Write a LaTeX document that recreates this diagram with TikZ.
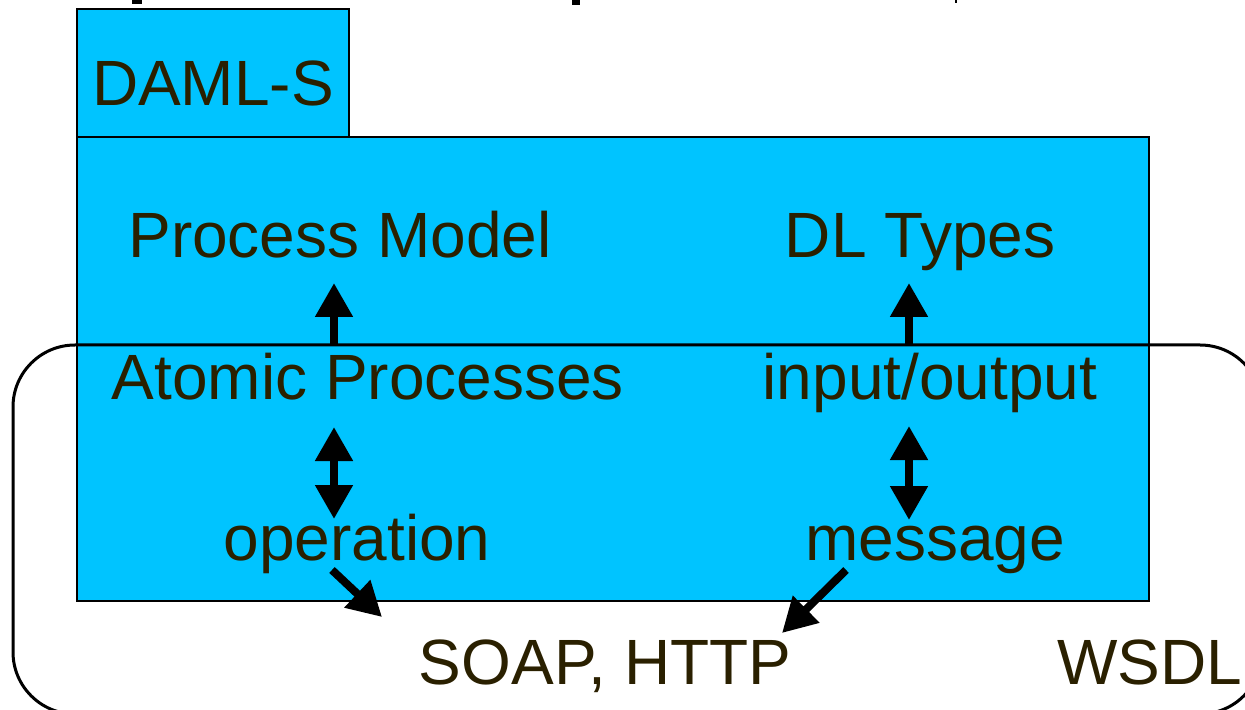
\documentclass[tikz,border=0pt]{standalone}
\usepackage{fontspec}
\setmainfont{Liberation Sans}
\usetikzlibrary{arrows.meta}
\definecolor{boxcyan}{RGB}{0,196,255}
\definecolor{ink}{RGB}{42,32,0}
\tikzset{
  layer/.style={draw=black, line width=1pt, fill=boxcyan},
  lbl/.style={text=ink, font=\fontsize{32}{38}\selectfont, inner sep=0pt, anchor=base},
  bigarrow/.style={line width=4pt, -{Triangle[width=18pt,length=17pt]}},
  dblarrow/.style={line width=4pt, {Triangle[width=18pt,length=17pt]}-{Triangle[width=18pt,length=17pt]}},
}
\begin{document}
\begin{tikzpicture}[x=0.5pt,y=-0.5pt]
\useasboundingbox (0,0) rectangle (1245,710);
\clip (0,0) rectangle (1245,710);

% fragments of the heading above
\fill (132,0) rectangle (142,4);
\fill (572,0) rectangle (580,5);
\fill (955,0) rectangle (957,3);

% DAML-S layer
\draw[layer] (77,9) rectangle (349,137);
\draw[layer] (77,137) rectangle (1149,601);

% WSDL frame
\draw[line width=1.5pt, rounded corners=31pt] (13,345) rectangle (1262,714);

% labels
\node[lbl] (daml) at (213,106) {DAML-S};
\node[lbl] (pm) at (340,258) {Process Model};
\node[lbl] (dl) at (920,258) {DL Types};
\node[lbl] (ap) at (368,400) {Atomic Processes};
\node[lbl] (io) at (930,400) {input/output};
\node[lbl] (op) at (357,560) {operation};
\node[lbl] (msg) at (935,560) {message};
\node[lbl] (soap) at (605,684) {SOAP, HTTP};
\node[lbl] (wsdl) at (1150,684) {WSDL};

% arrow end points
\coordinate (pmIn) at (334,283);
\coordinate (apOut) at (334,346);
\coordinate (dlIn) at (909,283);
\coordinate (ioOut) at (909,346);
\coordinate (apLow) at (334,427);
\coordinate (opHigh) at (334,519);
\coordinate (ioLow) at (909,426);
\coordinate (msgHigh) at (909,520);
\coordinate (opTail) at (332,570);
\coordinate (soapL) at (382,617);
\coordinate (msgTail) at (846,570);
\coordinate (soapR) at (782,633);

% connectors
\draw[bigarrow] (apOut) -- (pmIn);
\draw[bigarrow] (ioOut) -- (dlIn);
\draw[dblarrow] (apLow) -- (opHigh);
\draw[dblarrow] (ioLow) -- (msgHigh);
\draw[bigarrow] (opTail) -- (soapL);
\draw[bigarrow] (msgTail) -- (soapR);
\end{tikzpicture}
\end{document}
